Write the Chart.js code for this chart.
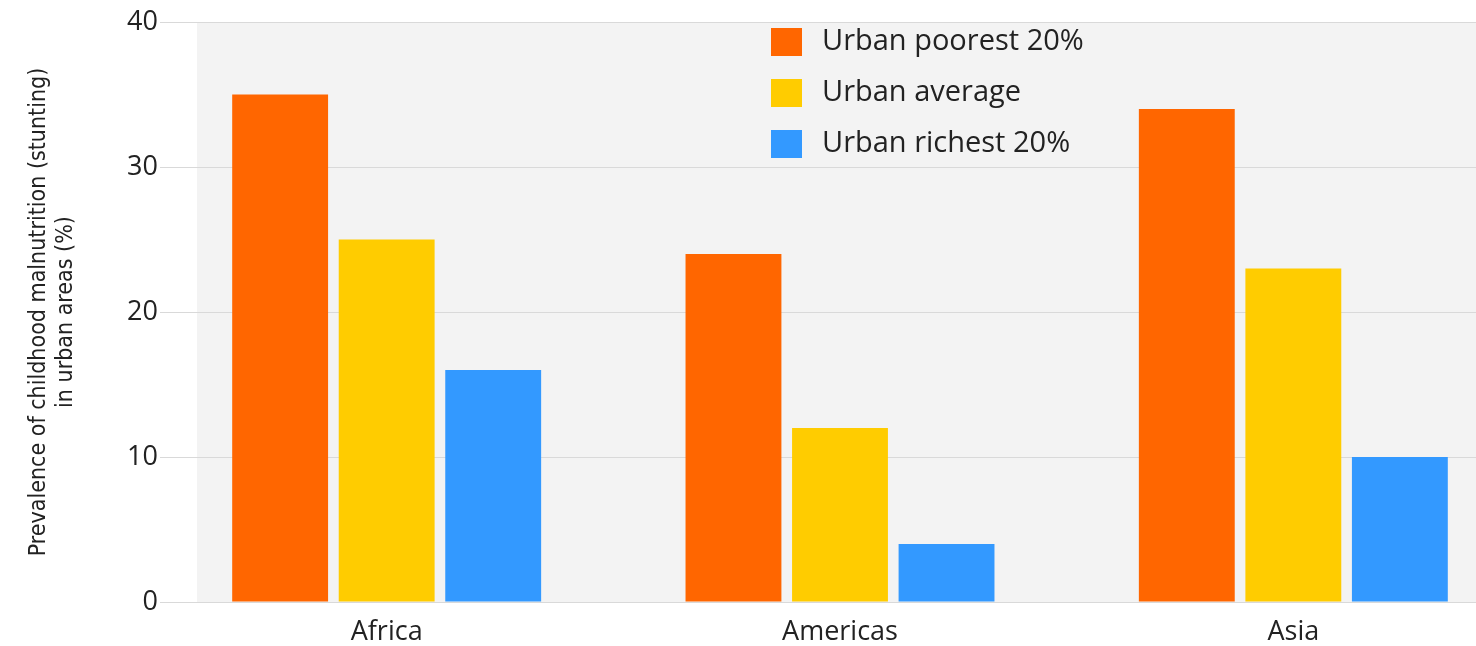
<!DOCTYPE html>
<html>
<head>
<meta charset="utf-8">
<script src="https://cdn.jsdelivr.net/npm/chart.js@4/dist/chart.umd.min.js"></script>
<style>
  body { margin: 0; background: #fff; }
  #wrap { width: 1476px; height: 646px; overflow: hidden; }
</style>
</head>
<body>
<div id="wrap"><canvas id="chart" width="1520" height="646"></canvas></div>
<script>
// categories and series
const regions = ['Africa', 'Americas', 'Asia'];
const poorest = [35, 24, 34];
const average = [25, 12, 23];
const richest = [16, 4, 10];
const seriesNames = ['Urban poorest 20%', 'Urban average', 'Urban richest 20%'];
const seriesColors = ['#ff6600', '#ffcc00', '#3399ff'];
const yTicks = [0, 10, 20, 30, 40];
const yTitle = ['Prevalence of childhood malnutrition (stunting)', 'in urban areas (%)'];

const FONT = '"Open Sans", sans-serif';

// grey panel behind the bars
const panelPlugin = {
    id: 'panel',
    beforeDraw(chart) {
        const { ctx, chartArea } = chart;
        ctx.save();
        ctx.fillStyle = '#f3f3f3';
        ctx.fillRect(chartArea.left + 37, chartArea.top, chartArea.right - chartArea.left - 37, chartArea.bottom - chartArea.top);
        ctx.restore();
    }
};

// legend stacked in a column inside the plot
const stackedLegend = {
    id: 'stackedLegend',
    afterDraw(chart) {
        const { ctx, chartArea } = chart;
        const x = chartArea.left + 611;
        const y0 = chartArea.top + 6;
        ctx.save();
        ctx.font = '29px ' + FONT;
        ctx.textBaseline = 'middle';
        chart.data.datasets.forEach((ds, i) => {
            const y = y0 + i * 51;
            ctx.fillStyle = ds.backgroundColor;
            ctx.fillRect(x, y, 31, 28);
            ctx.fillStyle = '#222';
            ctx.fillText(ds.label, x + 51, y + 14);
        });
        ctx.restore();
    }
};

const datasets = [poorest, average, richest].map((values, i) => ({
    label: seriesNames[i],
    data: values,
    backgroundColor: seriesColors[i],
    borderWidth: 0,
    barPercentage: 0.9,
    categoryPercentage: 0.705
}));

new Chart(document.getElementById('chart'), {
    type: 'bar',
    data: { labels: regions, datasets },
    options: {
        responsive: false,
        animation: false,
        layout: { padding: { top: 22, right: 0, bottom: 0, left: 0 } },
        plugins: {
            legend: { display: false },
            tooltip: { enabled: false }
        },
        scales: {
            x: {
                grid: { display: false },
                border: { display: false },
                ticks: { color: '#222', font: { family: FONT, size: 27 }, padding: 6 },
                afterFit(scale) { scale.height = 44; }
            },
            y: {
                min: 0,
                max: 40,
                afterBuildTicks(scale) { scale.ticks = yTicks.map(v => ({ value: v })); },
                grid: { color: '#d9d9d9', lineWidth: 1, drawTicks: false },
                border: { display: false },
                ticks: { color: '#222', font: { family: FONT, size: 27 }, padding: 2 },
                title: {
                    display: true,
                    text: yTitle,
                    color: '#222',
                    font: { family: '"DejaVu Sans Condensed", sans-serif', size: 23, lineHeight: 1.15 },
                    padding: { top: 26, bottom: 0 }
                },
                afterFit(scale) { scale.width = 160; }
            }
        }
    },
    plugins: [panelPlugin, stackedLegend]
});
</script>
</body>
</html>
